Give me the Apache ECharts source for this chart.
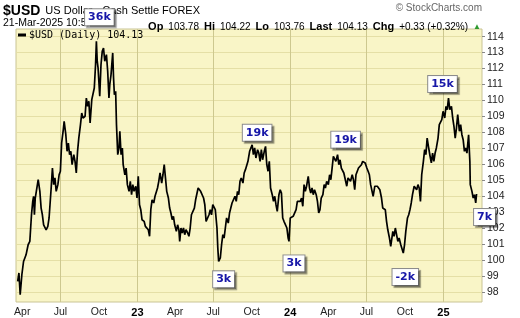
<!DOCTYPE html>
<html><head><meta charset="utf-8">
<script src="https://cdn.jsdelivr.net/npm/echarts@6/dist/echarts.min.js"></script>
<style>html,body{margin:0;padding:0;background:#fff}#c{width:520px;height:318px}</style>
</head><body><div id="c"></div>
<script>
const dates = [
'2022-03-21','2022-03-24','2022-03-27','2022-03-31','2022-04-04','2022-04-10','2022-04-15','2022-04-19','2022-04-20','2022-04-23',
'2022-04-26','2022-04-28','2022-04-30','2022-05-02','2022-05-05','2022-05-09','2022-05-13','2022-05-16','2022-05-19','2022-05-22',
'2022-05-28','2022-06-01','2022-06-04','2022-06-09','2022-06-12','2022-06-15','2022-06-18','2022-06-21','2022-06-25','2022-06-28',
'2022-07-01','2022-07-04','2022-07-08','2022-07-10','2022-07-14','2022-07-17','2022-07-20','2022-07-23','2022-07-26','2022-07-29',
'2022-08-02','2022-08-05','2022-08-08','2022-08-11','2022-08-14','2022-08-18','2022-08-21','2022-08-24','2022-08-29','2022-09-01',
'2022-09-04','2022-09-07','2022-09-10','2022-09-14','2022-09-17','2022-09-20','2022-09-23','2022-09-25','2022-09-27','2022-09-29',
'2022-10-03','2022-10-06','2022-10-09','2022-10-12','2022-10-15','2022-10-19','2022-10-22','2022-10-25','2022-10-27','2022-10-30',
'2022-11-03','2022-11-05','2022-11-07','2022-11-10','2022-11-12','2022-11-15','2022-11-18','2022-11-20','2022-11-23','2022-11-26',
'2022-11-28','2022-12-02','2022-12-05','2022-12-08','2022-12-12','2022-12-15','2022-12-18','2022-12-21','2022-12-24','2022-12-28',
'2022-12-31','2023-01-03','2023-01-06','2023-01-09','2023-01-12','2023-01-17','2023-01-20','2023-01-24','2023-01-27','2023-01-30',
'2023-02-02','2023-02-05','2023-02-09','2023-02-12','2023-02-15','2023-02-18','2023-02-21','2023-02-24','2023-02-28','2023-03-03',
'2023-03-06','2023-03-09','2023-03-12','2023-03-16','2023-03-19','2023-03-22','2023-03-25','2023-03-28','2023-03-31','2023-04-04',
'2023-04-07','2023-04-10','2023-04-12','2023-04-15','2023-04-18','2023-04-21','2023-04-24','2023-04-27','2023-05-01','2023-05-04',
'2023-05-07','2023-05-10','2023-05-13','2023-05-17','2023-05-20','2023-05-23','2023-05-26','2023-05-29','2023-06-01','2023-06-05',
'2023-06-08','2023-06-11','2023-06-14','2023-06-17','2023-06-21','2023-06-24','2023-06-27','2023-06-30','2023-07-03','2023-07-06',
'2023-07-10','2023-07-12','2023-07-14','2023-07-18','2023-07-21','2023-07-24','2023-07-27','2023-07-30','2023-08-02','2023-08-06',
'2023-08-09','2023-08-12','2023-08-15','2023-08-18','2023-08-22','2023-08-25','2023-08-28','2023-08-31','2023-09-03','2023-09-06',
'2023-09-10','2023-09-13','2023-09-16','2023-09-19','2023-09-22','2023-09-26','2023-09-29','2023-10-02','2023-10-05','2023-10-08',
'2023-10-11','2023-10-15','2023-10-18','2023-10-21','2023-10-24','2023-10-27','2023-10-31','2023-11-03','2023-11-06','2023-11-09',
'2023-11-12','2023-11-15','2023-11-19','2023-11-22','2023-11-25','2023-11-28','2023-12-01','2023-12-05','2023-12-08','2023-12-11',
'2023-12-14','2023-12-17','2023-12-20','2023-12-24','2023-12-27','2023-12-29','2024-01-01','2024-01-05','2024-01-08','2024-01-11',
'2024-01-15','2024-01-18','2024-01-21','2024-01-25','2024-01-28','2024-01-31','2024-02-03','2024-02-06','2024-02-09','2024-02-13',
'2024-02-16','2024-02-19','2024-02-22','2024-02-25','2024-02-28','2024-03-03','2024-03-06','2024-03-09','2024-03-12','2024-03-15',
'2024-03-19','2024-03-22','2024-03-25','2024-03-28','2024-04-01','2024-04-04','2024-04-07','2024-04-10','2024-04-13','2024-04-16',
'2024-04-19','2024-04-23','2024-04-26','2024-04-29','2024-05-02','2024-05-05','2024-05-08','2024-05-12','2024-05-15','2024-05-18',
'2024-05-21','2024-05-24','2024-05-28','2024-05-31','2024-06-03','2024-06-06','2024-06-09','2024-06-12','2024-06-16','2024-06-19',
'2024-06-22','2024-06-25','2024-06-28','2024-07-02','2024-07-05','2024-07-08','2024-07-11','2024-07-14','2024-07-17','2024-07-21',
'2024-07-24','2024-07-27','2024-07-30','2024-08-02','2024-08-06','2024-08-09','2024-08-12','2024-08-15','2024-08-18','2024-08-21',
'2024-08-25','2024-08-28','2024-09-02','2024-09-05','2024-09-08','2024-09-11','2024-09-14','2024-09-17','2024-09-21','2024-09-24',
'2024-09-27','2024-09-30','2024-10-03','2024-10-07','2024-10-10','2024-10-13','2024-10-16','2024-10-19','2024-10-23','2024-10-26',
'2024-10-29','2024-11-01','2024-11-04','2024-11-07','2024-11-10','2024-11-14','2024-11-17','2024-11-20','2024-11-23','2024-11-26',
'2024-11-30','2024-12-03','2024-12-06','2024-12-09','2024-12-12','2024-12-15','2024-12-19','2024-12-22','2024-12-25','2024-12-28',
'2024-12-31','2025-01-04','2025-01-07','2025-01-10','2025-01-13','2025-01-16','2025-01-20','2025-01-23','2025-01-26','2025-01-29',
'2025-02-01','2025-02-04','2025-02-08','2025-02-11','2025-02-14','2025-02-17','2025-02-20','2025-02-23','2025-02-26','2025-03-02',
'2025-03-05','2025-03-06','2025-03-10','2025-03-13','2025-03-16','2025-03-19','2025-03-21'
];
const values = [
98.65,99.18,97.82,99.07,99.90,100.32,100.95,101.16,101.58,102.83,
103.67,103.99,102.83,103.88,103.99,105.03,104.30,103.25,102.83,102.20,
101.89,102.10,102.63,104.51,105.76,104.72,105.14,104.30,104.72,105.34,
105.56,107.33,108.17,108.69,107.85,106.81,107.33,106.60,106.81,105.97,
106.60,106.18,105.45,106.81,107.64,108.48,109.21,108.90,109.01,110.15,
109.63,109.95,108.59,110.05,109.95,110.78,112.24,113.71,112.46,112.04,
110.26,112.24,113.08,113.29,112.46,112.87,111.83,110.15,110.99,111.62,
112.98,111.41,110.36,110.57,108.48,106.60,107.02,108.07,106.60,107.02,
105.97,105.34,105.76,104.72,104.30,104.93,104.09,104.72,104.30,104.62,
103.88,105.24,103.46,103.15,102.52,102.42,102.10,102.20,101.89,101.48,
103.15,103.77,103.57,103.99,104.09,104.51,104.93,105.45,104.82,105.34,
105.97,105.14,104.30,103.88,103.25,102.94,102.52,102.73,102.20,101.79,
102.20,101.89,101.16,102.00,101.69,102.00,101.58,101.89,101.69,101.48,
102.00,102.83,102.94,103.25,103.77,103.67,104.51,104.55,104.30,104.20,
103.88,103.46,102.42,102.31,102.83,103.15,102.83,103.46,103.57,103.15,
102.00,100.74,99.91,100.12,100.95,101.58,101.37,102.00,102.63,102.31,
102.94,103.25,103.57,103.46,103.99,103.67,104.30,104.09,104.93,105.14,
104.82,105.45,105.66,105.56,106.18,106.81,107.02,107.22,106.60,107.02,
106.39,106.91,106.70,106.18,106.91,106.28,106.81,107.12,105.97,105.56,
106.18,104.51,104.09,103.67,103.99,103.46,103.04,104.09,104.40,104.19,
102.63,102.42,102.52,102.00,101.37,101.16,102.63,102.52,102.73,102.63,
103.15,103.67,103.77,103.67,103.88,103.36,104.72,104.30,104.62,105.24,
104.51,104.19,104.51,104.09,104.40,104.09,103.67,102.94,103.15,103.88,
104.09,104.72,104.51,104.93,104.72,105.34,105.03,105.76,106.50,106.60,
106.18,106.60,105.97,106.28,105.76,105.66,105.45,105.56,104.62,105.14,
105.24,104.93,105.34,105.03,104.40,105.34,105.24,105.76,105.66,105.97,
106.18,106.28,106.08,105.76,105.56,105.34,104.72,104.62,103.99,104.62,
104.51,104.62,104.72,104.40,103.88,103.25,103.36,103.15,102.42,101.89,
101.37,100.85,101.79,101.48,102.00,101.89,101.16,101.37,100.95,101.06,
100.43,100.95,101.79,102.63,102.83,103.15,103.57,104.09,104.62,104.72,
104.40,104.72,104.51,103.67,105.34,106.18,106.91,106.60,107.64,107.12,
106.50,106.08,106.70,106.18,106.70,107.02,107.64,108.48,108.38,108.79,
109.32,108.90,109.63,109.42,110.15,109.42,109.63,108.90,108.38,107.64,
108.27,109.11,108.07,108.48,107.85,107.54,106.81,107.02,106.70,107.85,
106.18,104.72,104.30,103.88,104.09,103.57,104.13
];
const xTickDates = ['2022-04-01','2022-07-01','2022-10-01','2023-01-01','2023-04-01','2023-07-01','2023-10-01','2024-01-01','2024-04-01','2024-07-01','2024-10-01','2025-01-01'];
const xTickLabels = ['Apr','Jul','Oct','23','Apr','Jul','Oct','24','Apr','Jul','Oct','25'];
const xGridDates = ['2022-07-01','2023-01-01','2023-07-01','2024-01-01','2024-07-01','2025-01-01'];
const yTicks = [98,99,100,101,102,103,104,105,106,107,108,109,110,111,112,113,114];
const annoLabels = ['36k','19k','3k','3k','19k','-2k','15k','7k'];
const annoDates = ['2022-09-25','2023-10-02','2023-07-14','2023-12-29','2024-04-16','2024-09-27','2025-01-13','2025-03-21'];
const annoValues = [113.71,107.22,99.91,101.16,106.60,100.43,110.15,104.13];

function ts(s){const p=s.split('-').map(Number);return new Date(p[0],p[1]-1,p[2]).getTime();}
const labelMap = {};
xTickDates.forEach((d,i)=>{labelMap[ts(d)] = xTickLabels[i];});
const annoOffsets = [[3,-24],[5,-12],[5,18],[5,22],[11,-15],[2,24],[-6,-14],[8,23]];

const chart = echarts.init(document.getElementById('c'), null, {renderer:'canvas'});
const lastVal = values[values.length-1];
const B = {fontFamily:'Liberation Sans',fontWeight:'bold',fontSize:11,color:'#000'};
const N = {fontFamily:'Liberation Sans',fontWeight:'normal',fontSize:10,color:'#000'};
chart.setOption({
  animation:false,
  backgroundColor:'#ffffff',
  title:[
    {text:'{b|$USD} {n|US Dollar - Cash Settle FOREX}', left:3, top:2, padding:0, z:1,
     textStyle:{rich:{b:{fontFamily:'Liberation Sans',fontWeight:'bold',fontSize:14,color:'#000'},
                      n:{fontFamily:'Liberation Sans',fontWeight:'normal',fontSize:11,color:'#000'}}}},
    {text:'21-Mar-2025 10:56am', left:3, top:18, padding:0, z:1,
     textStyle:{fontFamily:'Liberation Sans',fontSize:10.5,fontWeight:'normal',color:'#000'}},
    {text:'{b|Op} {n|103.78} {b|Hi} {n|104.22} {b|Lo} {n|103.76} {b|Last} {n|104.13} {b|Chg} {n|+0.33 (+0.32%)} {g|▲}',
     right:39, top:18, padding:0, z:1,
     textStyle:{rich:{b:B, n:N, g:{fontSize:8,color:'#2e9a2e'}}}},
    {text:'© StockCharts.com', right:38, top:3, padding:0, z:1,
     textStyle:{fontFamily:'Liberation Sans',fontSize:10,fontWeight:'normal',color:'#666'}}
  ],
  legend:{show:true, left:18, top:30, padding:0, itemWidth:8, itemHeight:3, icon:'rect',
    data:['$USD'], formatter:()=>'$USD (Daily) ' + lastVal.toFixed(2),
    textStyle:{fontFamily:'DejaVu Sans Mono',fontSize:10,color:'#000',padding:[0,0,0,-2]}},
  grid:{left:16, right:38, top:29, bottom:16, show:true, backgroundColor:'#f9f5c7', borderColor:'#c9c495', borderWidth:1},
  xAxis:{type:'value', min:ts('2022-03-17'), max:ts('2025-04-03'),
    axisLine:{show:false},
    axisTick:{show:false, customValues:xGridDates.map(ts)},
    axisLabel:{customValues:xTickDates.map(ts), margin:5, fontSize:10.5, fontFamily:'Liberation Sans', color:'#222',
      formatter:(v)=>{const l=labelMap[v]; if(l===undefined) return ''; return /^\d+$/.test(l)?'{y|'+l+'}':l;},
      rich:{y:{fontWeight:'bold',fontSize:11,fontFamily:'Liberation Sans',color:'#000'}}},
    splitLine:{show:true, lineStyle:{color:'#cdc88f', width:1}}},
  yAxis:{type:'value', position:'right', min:97.36, max:114.48,
    axisLine:{show:false},
    axisTick:{show:true, length:3, customValues:yTicks, lineStyle:{color:'#888'}},
    axisLabel:{customValues:yTicks, margin:5, fontSize:10.5, fontFamily:'Liberation Sans', color:'#222'},
    splitLine:{show:true, lineStyle:{color:'#e5dfa6', width:1}}},
  series:[{
    name:'$USD', type:'line', showSymbol:false, symbol:'none',
    data:dates.map((d,i)=>[ts(d), values[i]]),
    lineStyle:{color:'#000', width:1.7}, itemStyle:{color:'#000'},
    markPoint:{z:10, symbol:'circle', symbolSize:1, itemStyle:{color:'rgba(0,0,0,0)'},
      data:annoLabels.map((l,i)=>({name:l, coord:[ts(annoDates[i]), annoValues[i]], label:{offset:annoOffsets[i]}})),
      label:{show:true, position:'inside', formatter:(p)=>p.name,
        backgroundColor:'#ffffff', borderColor:'#8c8c8c', borderWidth:1, padding:[3,3,2,3],
        color:'#1717a8', fontWeight:'bold', fontSize:11, fontFamily:'DejaVu Sans',
        shadowColor:'rgba(0,0,0,0.35)', shadowOffsetX:2, shadowOffsetY:2, shadowBlur:1}}
  }]
});
</script></body></html>
